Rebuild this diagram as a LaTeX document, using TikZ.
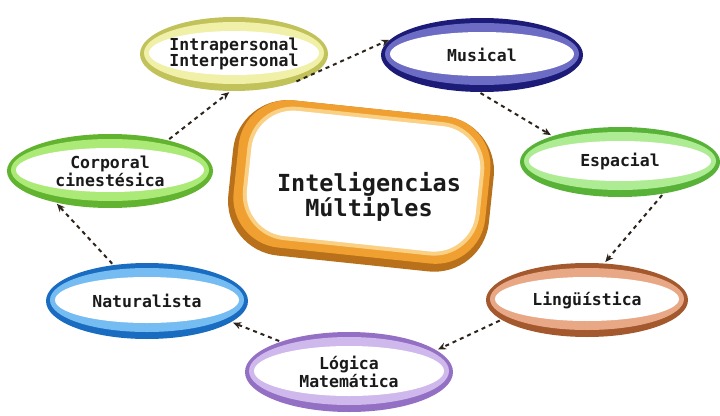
\documentclass[tikz,border=0pt]{standalone}
\usepackage{fontspec}
\setmonofont{DejaVu Sans Mono}
\usetikzlibrary{shapes.geometric,arrows.meta}

\definecolor{yelD}{HTML}{C2C25A}\definecolor{yelL}{HTML}{F0F0A8}
\definecolor{navD}{HTML}{1C1C78}\definecolor{navL}{HTML}{6C6CC4}
\definecolor{grnD}{HTML}{58B238}\definecolor{grnL}{HTML}{AEEC94}
\definecolor{brnD}{HTML}{A4582E}\definecolor{brnL}{HTML}{E8A886}
\definecolor{purD}{HTML}{9470C4}\definecolor{purL}{HTML}{CFB8EC}
\definecolor{bluD}{HTML}{1A6CC0}\definecolor{bluL}{HTML}{74BCF2}
\definecolor{limD}{HTML}{62B430}\definecolor{limL}{HTML}{ACEA78}
\definecolor{oraD}{HTML}{B8701A}\definecolor{oraM}{HTML}{F0A030}\definecolor{oraL}{HTML}{FAD084}
\definecolor{linkC}{HTML}{2E241C}
\definecolor{txtC}{HTML}{1A1A1A}

% ringed ellipse: name, cx, cy, rx, ry, dark, light, text
\newcommand\ringnode[8]{%
  \fill[#6] (#2,#3) ellipse [x radius=#4pt, y radius=#5pt];
  \fill[#7] (#2,#3-1) ellipse [x radius={(#4-4)*1pt}, y radius={(#5-6)*1pt}];
  \fill[white] (#2,#3-1) ellipse [x radius={(#4-9)*1pt}, y radius={(#5-15)*1pt}];
  \node[ellipse, minimum width={2*#4*1pt}, minimum height={2*#5*1pt}, inner sep=0pt,
        outer sep=0pt, align=center, font=\smalltext, text=txtC] (#1) at (#2,#3) {#8};
}
\newcommand\smalltext{\ttfamily\bfseries\fontsize{16.5}{16.5}\selectfont}
\newcommand\bigtext{\ttfamily\bfseries\fontsize{23.5}{23}\selectfont}

\tikzset{
  link/.style={draw=linkC, line width=2pt, dash pattern=on 4pt off 4pt,
               -{Stealth[length=8pt,width=7pt]}, shorten >=2pt, shorten <=2pt}
}

\begin{document}
\begin{tikzpicture}[x=1pt,y=-1pt]
\useasboundingbox (0,0) rectangle (720,415);
\fill[white] (0,0) rectangle (720,415);

% central rounded frame
\begin{scope}[shift={(362,186)}, rotate=-6]
  \fill[oraD, rounded corners=55pt] (-132,-78) rectangle (130,78);
  \fill[oraM, rounded corners=50pt] (-127,-78) rectangle (126,70);
  \fill[oraL, rounded corners=46pt] (-118,-72) rectangle (120,62);
  \fill[white, rounded corners=42pt] (-114,-68) rectangle (116,58);
\end{scope}
\node[align=center, font=\bigtext, text=txtC] (mi) at (369,197) {Inteligencias\\Múltiples};

\ringnode{intra}{234}{54}{94}{37}{yelD}{yelL}{Intrapersonal\\Interpersonal}
\ringnode{musi}{482}{55}{101}{37}{navD}{navL}{Musical}
\ringnode{espa}{620}{162}{100}{35}{grnD}{grnL}{Espacial}
\ringnode{ling}{587}{300}{101}{37}{brnD}{brnL}{Lingüística}
\ringnode{logi}{349}{372}{104}{40}{purD}{purL}{Lógica\\Matemática}
\ringnode{natu}{147}{301}{101}{38}{bluD}{bluL}{Naturalista}
\ringnode{corp}{110}{171}{103}{37}{limD}{limL}{Corporal\\cinestésica}

% cycle of connectors
\draw[link] (corp.28) -- (intra.-95);
\draw[link] (intra.-25) -- (musi.170);
\draw[link] (musi.-95) -- (espa.159);
\draw[link] (espa.-36) -- (ling.65);
\draw[link] (ling.193) -- (logi.14);
\draw[link] (logi.156) -- (natu.-14);
\draw[link] (natu.133) -- (corp.210);
\end{tikzpicture}
\end{document}
